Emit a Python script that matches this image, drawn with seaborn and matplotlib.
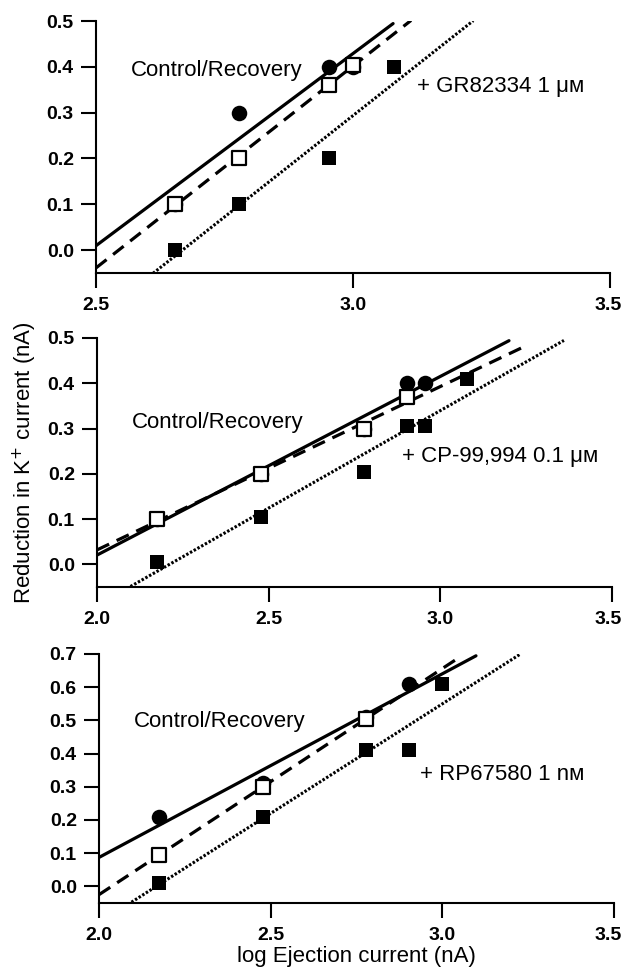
import numpy as np
import pandas as pd
import matplotlib
matplotlib.use("Agg")
import matplotlib.pyplot as plt
import seaborn as sns

# log ejection currents (log10 of nA)
x_p1 = [2.653, 2.778, 2.954, 3.000]
x_p1_drug = [2.653, 2.778, 2.954, 3.079]
x_p2 = [2.176, 2.477, 2.778, 2.903, 2.954]
x_p2_rec = [2.176, 2.477, 2.778, 2.903]
x_p2_drug = [2.176, 2.477, 2.778, 2.903, 2.954, 3.079]
x_p3 = [2.176, 2.477, 2.778, 2.903]
x_p3_rec = [2.176, 2.477, 2.778]
x_p3_drug = [2.176, 2.477, 2.778, 2.903, 3.000]

# reduction in K+ current (nA)
control_p1 = [0.10, 0.30, 0.40, 0.40]
recovery_p1 = [0.10, 0.20, 0.36, 0.405]
drug_p1 = [0.00, 0.10, 0.20, 0.40]
control_p2 = [0.10, 0.20, 0.30, 0.40, 0.40]
recovery_p2 = [0.10, 0.20, 0.30, 0.37]
drug_p2 = [0.005, 0.105, 0.205, 0.305, 0.305, 0.41]
control_p3 = [0.21, 0.31, 0.51, 0.61]
recovery_p3 = [0.095, 0.30, 0.505]
drug_p3 = [0.01, 0.21, 0.41, 0.41, 0.61]

# x where each fitted line stops (control, recovery, drug)
line_end_p1 = [3.078, 3.113, 3.234]
line_end_p2 = [3.20, 3.235, 3.36]
line_end_p3 = [3.098, 3.05, 3.226]

drug_labels = ["+ GR82334 1 \u03bc\u1d0d", "+ CP-99,994 0.1 \u03bc\u1d0d", "+ RP67580 1 n\u1d0d"]

panels = [
    dict(x=x_p1, xr=x_p1, xd=x_p1_drug, c=control_p1, r=recovery_p1, d=drug_p1,
         ends=line_end_p1, xlim=(2.5, 3.5), ylim=(-0.05, 0.5),
         xticks=[2.5, 3.0, 3.5], yticks=[0, 0.1, 0.2, 0.3, 0.4, 0.5],
         pos=[96 / 624, 1 - 273 / 973, 514 / 624, 252 / 973],
         ctext=(2.568, 0.393), dtext=(3.125, 0.356)),
    dict(x=x_p2, xr=x_p2_rec, xd=x_p2_drug, c=control_p2, r=recovery_p2, d=drug_p2,
         ends=line_end_p2, xlim=(2.0, 3.5), ylim=(-0.05, 0.5),
         xticks=[2.0, 2.5, 3.0, 3.5], yticks=[0, 0.1, 0.2, 0.3, 0.4, 0.5],
         pos=[97 / 624, 1 - 587 / 973, 515 / 624, 249 / 973],
         ctext=(2.102, 0.313), dtext=(2.887, 0.238)),
    dict(x=x_p3, xr=x_p3_rec, xd=x_p3_drug, c=control_p3, r=recovery_p3, d=drug_p3,
         ends=line_end_p3, xlim=(2.0, 3.5), ylim=(-0.05, 0.7),
         xticks=[2.0, 2.5, 3.0, 3.5], yticks=[0, 0.1, 0.2, 0.3, 0.4, 0.5, 0.6, 0.7],
         pos=[99 / 624, 1 - 903 / 973, 515 / 624, 249 / 973],
         ctext=(2.102, 0.497), dtext=(2.936, 0.338)),
]

sns.set_style("ticks")
plt.rcParams['font.family'] = ['Liberation Sans', 'DejaVu Sans']
plt.rcParams.update({"text.color": "black", "axes.labelcolor": "black",
                     "xtick.color": "black", "ytick.color": "black"})

fig = plt.figure(figsize=(6.24, 9.73), dpi=100)

styles = ["-", (0, (4.2, 2.6)), (0, (0.8, 0.6))]
widths = [2.3, 2.3, 2.2]
tick_len, tick_pad = 11, 6

for i, p in enumerate(panels):
    ax = fig.add_axes(p["pos"])
    groups = [(p["x"], p["c"]), (p["xr"], p["r"]), (p["xd"], p["d"])]
    # regression lines
    for (gx, gy), ls, lw, xe in zip(groups, styles, widths, p["ends"]):
        k, b = np.polyfit(gx, gy, 1)
        xs = np.array([p["xlim"][0], xe])
        df_line = pd.DataFrame({"x": xs, "y": k * xs + b})
        sns.lineplot(data=df_line, x="x", y="y", ax=ax, color="black",
                     linestyle=ls, linewidth=lw, dash_capstyle="butt", zorder=2)
    # points
    sns.scatterplot(x=p["x"], y=p["c"], ax=ax, marker="o", s=125, color="black",
                    edgecolor="black", linewidth=0, zorder=3)
    sns.scatterplot(x=p["xd"], y=p["d"], ax=ax, marker="s", s=115, color="black",
                    edgecolor="black", linewidth=0, zorder=4)
    sns.scatterplot(x=p["xr"], y=p["r"], ax=ax, marker="s", s=100, color="white",
                    edgecolor="black", linewidth=1.6, zorder=5)

    ax.set_xlim(*p["xlim"])
    ax.set_ylim(*p["ylim"])
    ax.set_xticks(p["xticks"])
    # last x label is placed by hand so it stays inside the figure edge
    xlabels = [f"{t:.1f}" for t in p["xticks"]]
    ax.set_xticklabels(xlabels[:-1] + [""])
    ax.set_yticks(p["yticks"])
    ax.set_yticklabels([f"{t:.1f}" for t in p["yticks"]])
    for lab in ax.get_xticklabels() + ax.get_yticklabels():
        lab.set_fontweight("bold")
        lab.set_fontsize(14)
    right_px = (p["pos"][0] + p["pos"][2]) * 624
    shift = min(0, 608 - right_px) * 0.72
    ax.annotate(xlabels[-1], xy=(p["xticks"][-1], 0), xycoords=("data", "axes fraction"),
                xytext=(shift, -(tick_len + tick_pad)), textcoords="offset points",
                ha="center", va="top", fontsize=14, fontweight="bold",
                annotation_clip=False)
    ax.tick_params(axis="both", direction="out", length=tick_len, width=1.5, color="black")
    ax.tick_params(axis="x", pad=tick_pad)
    ax.tick_params(axis="y", pad=5)
    sns.despine(ax=ax)
    for sp in ["left", "bottom"]:
        ax.spines[sp].set_linewidth(1.5)
        ax.spines[sp].set_color("black")
    ax.set_xlabel("")
    ax.set_ylabel("")

    ax.text(p["ctext"][0], p["ctext"][1], "Control/Recovery", fontsize=16,
            ha="left", va="center")
    ax.text(p["dtext"][0], p["dtext"][1], drug_labels[i], fontsize=16,
            ha="left", va="center")

    if i == 1:
        ax.set_ylabel("Reduction in K$^{+}$ current (nA)", fontsize=16, labelpad=6)
    if i == 2:
        ax.set_xlabel("log Ejection current (nA)", fontsize=16, labelpad=2)

fig.savefig("out.png", dpi=100)
